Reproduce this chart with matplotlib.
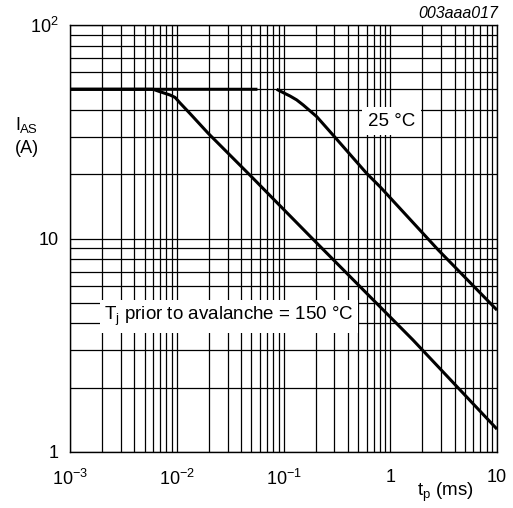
import numpy as np
import matplotlib
matplotlib.use('Agg')
import matplotlib.pyplot as plt
from matplotlib.ticker import LogLocator, NullFormatter, FixedLocator, FixedFormatter

# ---- data ----
t_25 = [0.001, 0.057, 0.07, 0.0863, 0.0995, 0.115, 0.1327, 0.153, 0.205, 0.3, 0.6, 0.8, 2.82, 10]
i_25 = [50, 50, np.nan, 50, 48.2, 46.5, 44.6, 42.2, 37.2, 30, 20.2, 17.5, 8.83, 4.62]

t_150 = [0.001, 0.006, 0.00697, 0.00865, 0.00964, 0.0107, 0.0133, 0.0197, 0.05, 0.186, 1.63, 10]
i_150 = [50, 50, 48.7, 47.0, 45.8, 43.2, 38.5, 31.1, 19.5, 10, 3.35, 1.28]

x_ticks = [1e-3, 1e-2, 1e-1, 1, 10]
x_tick_labels = ['$10^{-3}$', '$10^{-2}$', '$10^{-1}$', '1', '10']
y_ticks = [1, 10, 100]
y_tick_labels = ['1', '10', '$10^{2}$']

label_25 = '25 °C'
label_150 = r'T$_{\mathregular{j}}$ prior to avalanche = 150 °C'

plt.rcParams['font.family'] = ['Liberation Sans', 'DejaVu Sans']
plt.rcParams['mathtext.fontset'] = 'custom'
plt.rcParams['mathtext.rm'] = 'Liberation Sans'
plt.rcParams['mathtext.it'] = 'Liberation Sans:italic'
plt.rcParams['mathtext.bf'] = 'Liberation Sans:bold'
plt.rcParams['mathtext.default'] = 'regular'

fig = plt.figure(figsize=(5.13, 5.08), dpi=100)
ax = fig.add_axes([70/513, 1-452/508, 427/513, 427/508])
ax.set_xscale('log')
ax.set_yscale('log')
ax.set_xlim(1e-3, 10)
ax.set_ylim(1, 100)

ax.xaxis.set_major_locator(FixedLocator(x_ticks))
ax.xaxis.set_major_formatter(FixedFormatter(x_tick_labels))
ax.yaxis.set_major_locator(FixedLocator(y_ticks))
ax.yaxis.set_major_formatter(FixedFormatter(y_tick_labels))
ax.xaxis.set_minor_locator(LogLocator(base=10, subs=np.arange(2, 10), numticks=20))
ax.yaxis.set_minor_locator(LogLocator(base=10, subs=np.arange(2, 10), numticks=20))
ax.xaxis.set_minor_formatter(NullFormatter())
ax.yaxis.set_minor_formatter(NullFormatter())

ax.tick_params(which='both', length=0, labelsize=13)
ax.tick_params(axis='x', pad=12)
ax.tick_params(axis='y', pad=8)

ax.grid(True, which='both', color='black', linewidth=0.9)
ax.set_axisbelow(True)
for s in ax.spines.values():
    s.set_linewidth(1.0)
    s.set_color('black')

ax.plot(t_25, i_25, color='black', linewidth=2.2, solid_capstyle='butt', zorder=3)
ax.plot(t_150, i_150, color='black', linewidth=2.2, solid_capstyle='butt', zorder=3)

ax.text(1.03, 35.5, label_25, fontsize=13.5, ha='center', va='center', zorder=4,
        bbox=dict(boxstyle='square,pad=0.3', facecolor='white', edgecolor='none'))
ax.text(0.0309, 4.31, label_150, fontsize=13.5, ha='center', va='center', zorder=4,
        bbox=dict(boxstyle='square,pad=0.25', facecolor='white', edgecolor='none'))

fig.text(15/513, 1-130/508, 'I', fontsize=13, ha='left', va='baseline')
fig.text(20/513, 1-133/508, 'AS', fontsize=9.5, ha='left', va='baseline')
fig.text(15/513, 1-153/508, '(A)', fontsize=13, ha='left', va='baseline')
fig.text(417/513, 1-492/508, r't$_{\mathregular{p}}$ (ms)', fontsize=13.5, ha='left', va='center')
fig.text(498/513, 1-14/508, '003aaa017', fontsize=11.5, style='italic', ha='right', va='center')

fig.savefig('out.png', dpi=100, facecolor='white')
